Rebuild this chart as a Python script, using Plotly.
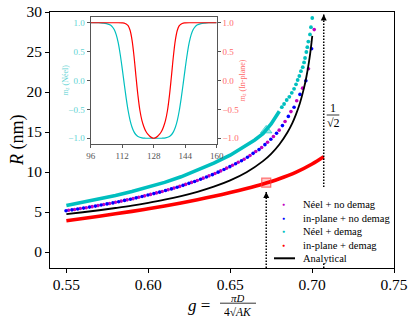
import numpy as np
import plotly.graph_objects as go

# ---------------- main-panel data (R in nm vs g) ----------------
g_neel_nodemag = [0.5514, 0.5550, 0.5585, 0.5621, 0.5657, 0.5693, 0.5728, 0.5764, 0.5800, 0.5835,
                  0.5871, 0.5907, 0.5942, 0.5978, 0.6014, 0.6050, 0.6085, 0.6121, 0.6157, 0.6192,
                  0.6228, 0.6264, 0.6299, 0.6335, 0.6371, 0.6407, 0.6442, 0.6478, 0.6514, 0.6549,
                  0.6585, 0.6621, 0.6656, 0.6692, 0.6728, 0.6764, 0.6799, 0.6835, 0.6871, 0.6906,
                  0.6942, 0.6978, 0.7013]
R_neel_nodemag = [5.21, 5.32, 5.43, 5.54, 5.67, 5.80, 5.93, 6.07, 6.21, 6.36,
                  6.52, 6.67, 6.85, 7.02, 7.20, 7.39, 7.57, 7.78, 7.99, 8.20,
                  8.45, 8.70, 8.94, 9.23, 9.52, 9.82, 10.14, 10.48, 10.84, 11.21,
                  11.60, 12.06, 12.56, 13.07, 13.71, 14.44, 15.23, 16.31, 17.55, 18.90,
                  20.48, 22.90, 27.80]

g_inplane_nodemag = [0.5498, 0.5534, 0.5569, 0.5605, 0.5641, 0.5677, 0.5712, 0.5748, 0.5784, 0.5819,
                     0.5855, 0.5891, 0.5926, 0.5962, 0.5998, 0.6034, 0.6069, 0.6105, 0.6141, 0.6176,
                     0.6212, 0.6248, 0.6283, 0.6319, 0.6355, 0.6391, 0.6426, 0.6462, 0.6498, 0.6533,
                     0.6569, 0.6605, 0.6640, 0.6676, 0.6712, 0.6748, 0.6783, 0.6819, 0.6855, 0.6890,
                     0.6926, 0.6962, 0.6997]
R_inplane_nodemag = [5.16, 5.27, 5.38, 5.49, 5.61, 5.74, 5.87, 6.01, 6.14, 6.29,
                     6.45, 6.60, 6.77, 6.94, 7.12, 7.30, 7.48, 7.68, 7.89, 8.09,
                     8.33, 8.58, 8.81, 9.09, 9.38, 9.67, 9.98, 10.31, 10.67, 11.03,
                     11.41, 11.84, 12.33, 12.80, 13.42, 14.10, 14.85, 15.80, 16.95, 18.10,
                     19.70, 21.40, 25.40]

g_neel_demag = [0.55, 0.56, 0.57, 0.58, 0.59, 0.60, 0.61, 0.62, 0.63, 0.64, 0.65, 0.66, 0.665,
                0.67, 0.675, 0.68,
                0.6815, 0.6829, 0.6845, 0.6861, 0.6876, 0.6890, 0.6902, 0.6912, 0.6922, 0.6932,
                0.6943, 0.6951, 0.6957, 0.6965, 0.6971, 0.6977, 0.6987, 0.6993, 0.7001]
R_neel_demag = [5.8, 6.2, 6.6, 7.05, 7.55, 8.1, 8.7, 9.4, 10.2, 11.1, 12.1, 13.3, 14.0,
                14.8, 16.0, 17.6,
                18.1, 18.5, 19.0, 19.4, 19.9, 20.4, 20.96, 21.5, 22.0, 22.6,
                23.1, 23.7, 24.25, 25.0, 25.6, 26.3, 27.2, 28.1, 29.25]

g_inplane_demag = [0.55, 0.56, 0.57, 0.58, 0.59, 0.60, 0.61, 0.62, 0.63, 0.64, 0.65, 0.66,
                   0.67, 0.68, 0.69, 0.70, 0.7071]
R_inplane_demag = [3.9, 4.18, 4.47, 4.77, 5.08, 5.41, 5.76, 6.13, 6.53, 6.96, 7.43, 7.94,
                   8.5, 9.15, 9.95, 11.0, 11.9]

g_analytical = [0.55, 0.56, 0.57, 0.58, 0.59, 0.60, 0.61, 0.62, 0.63, 0.64, 0.65, 0.66, 0.67,
                0.675, 0.68, 0.685, 0.688, 0.69, 0.6925, 0.695, 0.6965, 0.6975, 0.6985, 0.699,
                0.6995, 0.7001]
R_analytical = [4.74, 4.97, 5.22, 5.50, 5.80, 6.15, 6.54, 6.99, 7.52, 8.16, 8.95, 9.97, 11.36,
                12.28, 13.44, 14.97, 16.15, 17.11, 18.56, 20.45, 21.88, 23.01, 24.34, 25.09,
                25.92, 27.02]

g_marked = 0.672            # highlighted g
R_marked_neel = 15.2        # triangle on Néel + demag
R_marked_inplane = 8.66     # square on in-plane + demag
g_limit = 1 / np.sqrt(2)    # 1/sqrt(2) asymptote

x_ticks = [0.55, 0.60, 0.65, 0.70, 0.75]
y_ticks = [0, 5, 10, 15, 20, 25, 30]
legend_labels = ["Néel + no demag", "in-plane + no demag", "Néel + demag",
                 "in-plane + demag", "Analytical"]

# ---------------- inset data (m_z profiles) ----------------
x_profile_neel = [96, 100, 102, 104, 106, 107, 108, 109, 110, 111, 112, 113, 114, 115, 116, 117,
                  118, 119, 120, 122, 124, 128, 132, 134, 136, 137, 138, 139, 140, 141, 142, 143,
                  144, 145, 146, 147, 148, 149, 150, 152, 154, 156, 160]
mz_neel = [1.0, 1.0, 0.995, 0.985, 0.96, 0.93, 0.88, 0.79, 0.65, 0.45, 0.21, -0.05, -0.30,
           -0.52, -0.69, -0.81, -0.89, -0.94, -0.97, -0.995, -1.0, -1.0, -1.0, -0.995, -0.97,
           -0.94, -0.89, -0.81, -0.69, -0.52, -0.30, -0.05, 0.21, 0.45, 0.65, 0.79, 0.88, 0.93,
           0.96, 0.985, 0.995, 1.0, 1.0]
x_profile_inplane = [96, 104, 110, 112, 113, 114, 115, 116, 117, 118, 119, 120, 121, 122, 123,
                     124, 125, 126, 127, 128, 129, 130, 131, 132, 133, 134, 135, 136, 137, 138,
                     139, 140, 141, 142, 143, 144, 146, 152, 160]
mz_inplane = [1.0, 1.0, 1.0, 0.998, 0.995, 0.98, 0.95, 0.87, 0.70, 0.42, 0.07, -0.26, -0.52,
              -0.69, -0.80, -0.88, -0.93, -0.965, -0.99, -1.0, -0.99, -0.965, -0.93, -0.88,
              -0.80, -0.69, -0.52, -0.26, 0.07, 0.42, 0.70, 0.87, 0.95, 0.98, 0.995, 0.998,
              1.0, 1.0, 1.0]
inset_x_ticks = [96, 112, 128, 144, 160]
inset_y_ticks = [-1.0, -0.5, 0.0, 0.5, 1.0]

# ---------------- styling ----------------
FONT = "Liberation Serif, Times New Roman, serif"
C_CYAN = "#00BFBF"
C_MAG = "#BF00BF"
C_BLUE = "#0000FF"
C_RED = "#FF0000"
C_CYAN_LIGHT = "#5fd3d3"
C_RED_LIGHT = "#ff6a6a"
X_RANGE = [0.54, 0.75]
Y_RANGE = [-2, 30]

W, H = 415, 326
ML, MR, MT, MB = 50, 21, 12, 58
PW, PH = W - ML - MR, H - MT - MB


def px(xp):
    return (xp - ML) / PW


def py(yp):
    return (H - MB - yp) / PH


fig = go.Figure()

fig.add_trace(go.Scatter(x=g_neel_nodemag, y=R_neel_nodemag, mode="markers",
                         marker=dict(color=C_MAG, size=3.6), showlegend=False))
fig.add_trace(go.Scatter(x=g_inplane_nodemag, y=R_inplane_nodemag, mode="markers",
                         marker=dict(color=C_BLUE, size=3.6), showlegend=False))

gc = np.array(g_neel_demag)
Rc = np.array(R_neel_demag)
dense = gc <= 0.6801
fig.add_trace(go.Scatter(x=gc[dense], y=Rc[dense], mode="lines",
                         line=dict(color=C_CYAN, width=3.6), showlegend=False))
fig.add_trace(go.Scatter(x=gc[~dense], y=Rc[~dense], mode="markers",
                         marker=dict(color=C_CYAN, size=3.8), showlegend=False))

fig.add_trace(go.Scatter(x=g_inplane_demag, y=R_inplane_demag, mode="lines",
                         line=dict(color=C_RED, width=3.6, shape="spline"), showlegend=False))
fig.add_trace(go.Scatter(x=g_analytical, y=R_analytical, mode="lines",
                         line=dict(color="black", width=1.8, shape="spline"), showlegend=False))

fig.add_trace(go.Scatter(x=[g_marked], y=[R_marked_neel], mode="markers",
                         marker=dict(symbol="triangle-up", size=10, color="rgba(0,191,191,0.35)",
                                     line=dict(color="rgba(0,191,191,0.6)", width=1)),
                         showlegend=False))
fig.add_trace(go.Scatter(x=[g_marked], y=[R_marked_inplane], mode="markers",
                         marker=dict(symbol="square", size=9, color="rgba(255,0,0,0.2)",
                                     line=dict(color="rgba(255,60,60,0.7)", width=1.2)),
                         showlegend=False))

# inset
fig.add_trace(go.Scatter(x=x_profile_neel, y=mz_neel, mode="lines", xaxis="x2", yaxis="y2",
                         line=dict(color=C_CYAN, width=1.2, shape="spline"), showlegend=False))
fig.add_trace(go.Scatter(x=x_profile_inplane, y=mz_inplane, mode="lines", xaxis="x2", yaxis="y3",
                         line=dict(color=C_RED, width=1.2, shape="spline"), showlegend=False))

axis_common = dict(showgrid=False, zeroline=False, showline=True, linecolor="black",
                   linewidth=1, mirror=True, ticks="outside", ticklen=4, tickcolor="black",
                   automargin=False,
                   tickfont=dict(family=FONT, size=15.5, color="black"))

inset_dom_x = [px(90.7), px(216.7)]
inset_dom_y = [py(144), py(17)]

fig.update_layout(
    width=W, height=H, autosize=False,
    margin=dict(l=ML, r=MR, t=MT, b=MB, pad=0, autoexpand=False),
    paper_bgcolor="white", plot_bgcolor="white",
    showlegend=False,
    font=dict(family=FONT, color="black"),
    xaxis=dict(domain=[0, 1], range=X_RANGE, tickvals=x_ticks, tickformat=".2f",
               ticklabelstandoff=-2, **axis_common),
    yaxis=dict(domain=[0, 1], range=Y_RANGE, tickvals=y_ticks, **axis_common),
    xaxis2=dict(domain=inset_dom_x, anchor="y2", range=[96, 160], tickvals=inset_x_ticks,
                showgrid=False, zeroline=False, showline=True, linecolor="#555", linewidth=1.2,
                mirror=True, ticks="outside", ticklen=3, tickcolor="#555", automargin=False,
                tickfont=dict(family=FONT, size=9, color="#555")),
    yaxis2=dict(domain=inset_dom_y, anchor="x2", range=[-1.1, 1.1], tickvals=inset_y_ticks,
                tickformat=".1f", showgrid=False, zeroline=False, showline=True,
                linecolor="#555", linewidth=1.2, mirror=True, ticks="outside", ticklen=3,
                tickcolor="#555", automargin=False,
                tickfont=dict(family=FONT, size=9, color=C_CYAN_LIGHT)),
    yaxis3=dict(overlaying="y2", anchor="x2", side="right", range=[-1.1, 1.1],
                tickvals=inset_y_ticks, tickformat=".1f", showgrid=False, zeroline=False,
                showline=False, ticks="outside", ticklen=3, tickcolor="#555", automargin=False,
                tickfont=dict(family=FONT, size=9, color=C_RED_LIGHT)),
)

# ---------------- shapes: dotted guide lines, legend background, fraction bars ----------------
tip_marked = 7.5
tip_limit = 29.7
dot = "1.5px,1.5px"
shapes = [
    dict(type="line", xref="x", yref="y", x0=g_marked, x1=g_marked, y0=Y_RANGE[0], y1=tip_marked,
         line=dict(color="black", width=1.5, dash=dot)),
    dict(type="line", xref="x", yref="y", x0=g_limit, x1=g_limit, y0=Y_RANGE[0], y1=tip_limit,
         line=dict(color="black", width=1.5, dash=dot)),
    # legend background
    dict(type="rect", xref="paper", yref="paper", x0=px(270), x1=px(392), y0=py(262), y1=py(188),
         fillcolor="white", line=dict(width=0), layer="above"),
    # legend line glyph
    dict(type="line", xref="paper", yref="paper", x0=px(274), x1=px(295), y0=py(258.3),
         y1=py(258.3), line=dict(color="black", width=2)),
    # 1/sqrt2 fraction bar
    dict(type="line", xref="paper", yref="paper", x0=px(326.7), x1=px(339.3), y0=py(115),
         y1=py(115), line=dict(color="black", width=0.8)),
    # x-label fraction bar
    dict(type="line", xref="paper", yref="paper", x0=px(220), x1=px(256), y0=py(303.2),
         y1=py(303.2), line=dict(color="black", width=0.8)),
]
fig.update_layout(shapes=shapes)


def label(xp, yp, text, size, color="black", angle=0, xanchor="center", height=None):
    d = dict(x=px(xp), y=py(yp), xref="paper", yref="paper", text=text, showarrow=False,
             xanchor=xanchor, yanchor="middle", textangle=angle, borderpad=0,
             font=dict(family=FONT, size=size, color=color))
    if height is not None:
        d["height"] = height
    return d


ann = []
# arrowheads
for gx, tip in [(g_marked, tip_marked), (g_limit, tip_limit)]:
    ann.append(dict(x=gx, y=tip, xref="x", yref="y", ax=0, ay=7, text="", showarrow=True,
                    arrowhead=2, arrowsize=1, arrowwidth=1.2, arrowcolor="black"))

# legend rows
row_y = [204, 218.3, 231.7, 245, 258.3]
glyph_colors = [C_MAG, C_BLUE, C_CYAN, C_RED]
for i, lab in enumerate(legend_labels):
    if i < 4:
        ann.append(label(283.3, row_y[i], "●", 5, color=glyph_colors[i]))
    ann.append(label(301.7, row_y[i], lab, 10.5, xanchor="left"))

# axis labels
ann.append(label(17, 140, "<i>R</i> (nm)", 18, angle=-90))
ann.append(label(199, 305, "<i>g</i> =", 17))
ann.append(label(237.5, 298, "<i>πD</i>", 11, height=10))
ann.append(label(238, 311.5, "4√<i>AK</i>", 11.5, height=11))
# 1/sqrt(2)
ann.append(label(333, 107.5, "1", 12))
ann.append(label(333, 123, "√2", 12))
# inset axis titles
ann.append(label(65, 80.5, "<i>m<sub>z</sub></i> (Néel)", 8, color=C_CYAN_LIGHT, angle=-90))
ann.append(label(242, 80.5, "<i>m<sub>z</sub></i> (In-plane)", 8, color=C_RED_LIGHT, angle=-90))
fig.update_layout(annotations=ann)

fig.write_html(
    "out.html",
    config={"displayModeBar": False, "staticPlot": True},
    post_script="document.body.style.margin='0';document.body.style.padding='0';"
                "document.documentElement.style.overflow='hidden';",
)
